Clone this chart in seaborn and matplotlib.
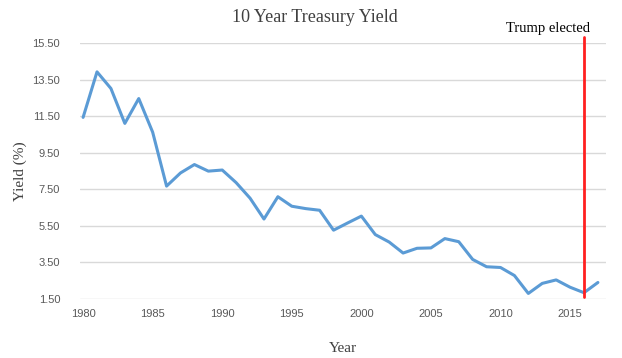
import pandas as pd
import matplotlib.pyplot as plt
import seaborn as sns

# Data
years = list(range(1980, 2018))
yields = [11.43, 13.92, 13.01, 11.10, 12.46, 10.62, 7.67, 8.39, 8.85, 8.49,
          8.55, 7.86, 7.01, 5.87, 7.09, 6.57, 6.44, 6.35, 5.26, 5.65,
          6.03, 5.02, 4.61, 4.01, 4.27, 4.29, 4.80, 4.63, 3.66, 3.26,
          3.22, 2.78, 1.80, 2.35, 2.54, 2.14, 1.84, 2.40]
y_ticks = [1.5, 3.5, 5.5, 7.5, 9.5, 11.5, 13.5, 15.5]
x_ticks = [1980, 1985, 1990, 1995, 2000, 2005, 2010, 2015]
election_year = 2016
election_label = "Trump elected"

df = pd.DataFrame({"Year": years, "Yield": yields})

sns.set_style("white")
serif = ["Liberation Serif", "DejaVu Serif"]
sans = ["Liberation Sans", "DejaVu Sans"]

fig = plt.figure(figsize=(6.22, 3.58), dpi=100)
ax = fig.add_axes([0.128, 0.165, 0.846, 0.715])

sns.lineplot(data=df, x="Year", y="Yield", ax=ax, color="#5B9BD5", linewidth=2.2)

ax.set_xlim(1979.75, 2017.57)
ax.set_ylim(1.5, 15.5)
ax.set_yticks(y_ticks)
ax.set_yticklabels([f"{v:.2f}" for v in y_ticks], family=sans, fontsize=8, color="#595959")
ax.set_xticks(x_ticks)
ax.set_xticklabels([str(v) for v in x_ticks], family=sans, fontsize=8, color="#595959")
ax.tick_params(length=0, pad=7)
ax.tick_params(axis="y", pad=14)

ax.yaxis.grid(True, color="#D9D9D9", linewidth=1.0)
ax.xaxis.grid(False)
sns.despine(ax=ax, left=True, bottom=True)

# election marker
ax.axvline(election_year, ymin=0.008, ymax=1.023, color="#FF2020", linewidth=2.0, clip_on=False)
ax.text(election_year + 0.45, 15.95, election_label, family=serif, fontsize=10.5,
        ha="right", va="bottom", color="black")

ax.set_xlabel("Year", family=serif, fontsize=11, color="#404040", labelpad=17)
ax.set_ylabel("Yield (%)", family=serif, fontsize=11, color="#404040", labelpad=4)
fig.text(0.506, 0.952, "10 Year Treasury Yield", family=serif, fontsize=13,
         color="#404040", ha="center", va="center")

fig.savefig("out.png", dpi=100)
